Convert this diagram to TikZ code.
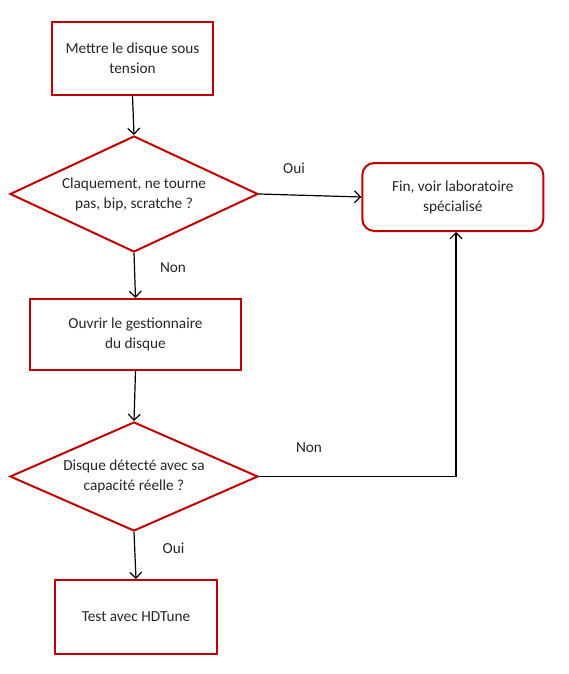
\documentclass[tikz,border=0pt]{standalone}
\usepackage{fontspec}
\setmainfont{Carlito}
\usetikzlibrary{shapes.geometric,arrows.meta}
\definecolor{boxred}{HTML}{C00000}
\definecolor{txt}{HTML}{262626}
\begin{document}
\begin{tikzpicture}[x=1pt,y=-1pt,
  every node/.style={font=\fontsize{15.3}{20}\selectfont, text=txt},
  procbox/.style={draw=boxred, line width=2pt, rectangle, align=center, inner sep=0pt},
  decision/.style={draw=boxred, line width=2pt, diamond, aspect=2.14, align=center, inner sep=0pt, minimum width=248pt, minimum height=116pt},
  endbox/.style={draw=boxred, line width=2pt, rectangle, rounded corners=12pt, align=center, inner sep=0pt},
  conn/.style={draw=black, line width=1.2pt, -{Straight Barb[length=6pt,width=12pt,line width=1.2pt]}},
  lbl/.style={inner sep=0pt}]
\useasboundingbox (0,0) rectangle (568,674);
\node[procbox, minimum width=161pt, minimum height=73pt] (b1) at (132.5,58.5) {Mettre le disque sous\\tension};
\node[decision] (d1) at (134,194) {Claquement, ne tourne\\pas, bip, scratche ?};
\node[endbox, minimum width=181pt, minimum height=68pt] (fin) at (452.8,197) {Fin, voir laboratoire\\spécialisé};
\node[procbox, minimum width=211pt, minimum height=71pt] (b2) at (135.5,334.5) {Ouvrir le gestionnaire\\du disque};
\node[decision, minimum height=109pt, aspect=2.27] (d2) at (134,476.5) {Disque détecté avec sa\\capacité réelle ?};
\node[procbox, minimum width=162pt, minimum height=74pt] (b3) at (136,617) {Test avec HDTune};
\node[lbl] (l1) at (294,168) {Oui};
\node[lbl] (l2) at (173,268) {Non};
\node[lbl] (l3) at (309,448) {Non};
\node[lbl] (l4) at (173.5,548) {Oui};
\draw[conn] (b1.south) -- (d1.north);
\draw[conn] (d1.east) -- (fin.west);
\draw[conn] (d1.south) -- (b2.north);
\draw[conn] (b2.south) -- (d2.north);
\draw[conn] (d2.east) -| ([xshift=3.2pt]fin.south);
\draw[conn] (d2.south) -- (b3.north);
\end{tikzpicture}
\end{document}
